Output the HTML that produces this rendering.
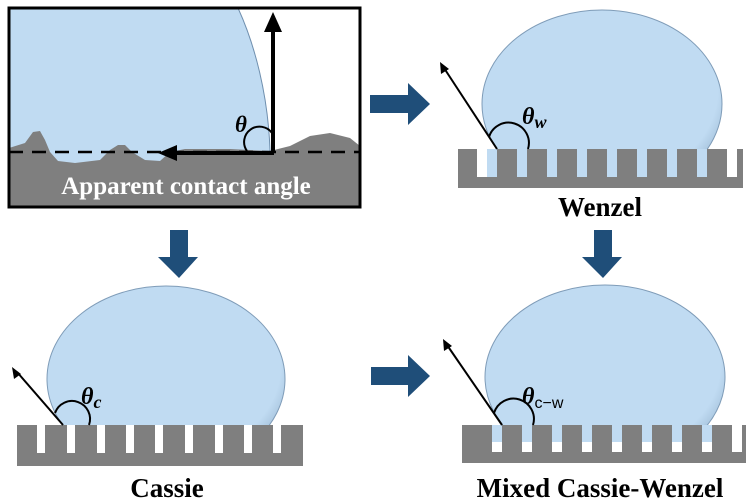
<!DOCTYPE html>
<html><head><meta charset="utf-8"><style>
html,body{margin:0;padding:0;background:#fff;}
svg{display:block}
text{font-family:"Liberation Serif",serif;font-weight:bold;}
</style></head><body>
<svg width="756" height="503" viewBox="0 0 756 503" xmlns="http://www.w3.org/2000/svg">
<defs>
<radialGradient id="dg" cx="0.45" cy="0.42" r="0.62">
<stop offset="0.86" stop-color="#c0dbf2"/><stop offset="1" stop-color="#9fbcd6"/>
</radialGradient>
<clipPath id="c1"><rect x="0" y="0" width="756" height="149"/></clipPath>
<clipPath id="c2"><rect x="0" y="0" width="756" height="425"/></clipPath>
<clipPath id="box"><rect x="9" y="8" width="351" height="199"/></clipPath>
</defs>

<!-- Top-left box -->
<g clip-path="url(#box)">
<rect x="9" y="8" width="351" height="199" fill="#fff"/>
<path d="M9,8 L238,8 C255,45 268,95 270,150 L270,170 L9,170 Z" fill="#c0dbf2" stroke="#6f8fae" stroke-width="1"/>
<path d="M9,148 L25,143 L33,132 L40,131 L45,140 L50,152 L58,161 L75,163 L100,160 L110,150 L118,145 L125,145 L132,152 L145,160 L160,161 L170,152 L185,149 L230,149 L270,151 L290,146 L310,136 L330,133 L350,138 L360,146 L360,207 L9,207 Z" fill="#7f7f7f"/>
<line x1="9" y1="152" x2="360" y2="152" stroke="#000" stroke-width="2.5" stroke-dasharray="14,9"/>
</g>
<rect x="9" y="8" width="351" height="199" fill="none" stroke="#000" stroke-width="3"/>
<line x1="273" y1="153" x2="273" y2="28" stroke="#000" stroke-width="4"/>
<polygon points="273,12 264,32 282,32" fill="#000"/>
<line x1="274" y1="153" x2="175" y2="153" stroke="#000" stroke-width="4"/>
<polygon points="158,153 177,145 177,161" fill="#000"/>
<path d="M247,151 A14,14 0 0 1 272,133" fill="none" stroke="#000" stroke-width="2"/>
<text x="235" y="132" font-size="23" font-style="italic">θ</text>
<text x="186" y="194" font-size="25" fill="#fff" text-anchor="middle">Apparent contact angle</text>

<!-- Blue arrows -->
<g fill="#1f4e79">
<polygon points="370,95 408,95 408,83 430,104 408,125 408,113 370,113"/>
<polygon points="371,367 408,367 408,355 430,376 408,397 408,385 371,385"/>
<polygon points="170,230 188,230 188,257 198,257 179,278 158,257 170,257"/>
<polygon points="594,230 612,230 612,257 622,257 603,278 582,257 594,257"/>
</g>

<!-- Wenzel -->
<rect x="458" y="149" width="285" height="39" fill="#7f7f7f"/>
<g fill="#c0dbf2">
<rect x="487" y="149" width="10" height="28"/><rect x="517" y="149" width="10" height="28"/><rect x="547" y="149" width="10" height="28"/><rect x="577" y="149" width="10" height="28"/><rect x="607" y="149" width="10" height="28"/><rect x="637" y="149" width="10" height="28"/><rect x="667" y="149" width="10" height="28"/><rect x="697" y="149" width="10" height="28"/>
</g>
<rect x="477" y="149" width="10" height="28" fill="#fff"/>
<rect x="727" y="149" width="10" height="28" fill="#fff"/>
<ellipse cx="602" cy="104" rx="120" ry="94" fill="url(#dg)" stroke="#7f9cb8" stroke-width="1" clip-path="url(#c1)"/>
<line x1="497" y1="149" x2="444" y2="68" stroke="#000" stroke-width="2"/>
<polygon points="440,62 441,74 449,69" fill="#000"/>
<path d="M489,137 A18,18 0 0 1 528,149" fill="none" stroke="#000" stroke-width="2"/>
<text x="522" y="124" font-size="24" font-style="italic">θ<tspan font-size="18" dy="4">w</tspan></text>
<text x="600" y="216" font-size="27" text-anchor="middle">Wenzel</text>

<!-- Cassie -->
<rect x="17" y="425" width="286" height="41" fill="#7f7f7f"/>
<g fill="#fff">
<rect x="37" y="425" width="8" height="28"/><rect x="67" y="425" width="8" height="28"/><rect x="97" y="425" width="8" height="28"/><rect x="126" y="425" width="8" height="28"/><rect x="155" y="425" width="8" height="28"/><rect x="185" y="425" width="8" height="28"/><rect x="215" y="425" width="8" height="28"/><rect x="244" y="425" width="8" height="28"/><rect x="273" y="425" width="8" height="28"/>
</g>
<ellipse cx="166" cy="379" rx="119" ry="93" fill="url(#dg)" stroke="#7f9cb8" stroke-width="1" clip-path="url(#c2)"/>
<line x1="63" y1="425" x2="17" y2="372" stroke="#000" stroke-width="2"/>
<polygon points="12,367 14,379 21,374" fill="#000"/>
<path d="M55,413 A18,18 0 0 1 89,425" fill="none" stroke="#000" stroke-width="2"/>
<text x="81" y="404" font-size="24" font-style="italic">θ<tspan font-size="18" dy="4">c</tspan></text>
<text x="167" y="497" font-size="27" text-anchor="middle">Cassie</text>

<!-- Mixed -->
<rect x="462" y="425" width="284" height="38" fill="#7f7f7f"/>
<g fill="#fff">
<rect x="492" y="425" width="10" height="27"/><rect x="522" y="425" width="10" height="27"/><rect x="552" y="425" width="10" height="27"/><rect x="582" y="425" width="10" height="27"/><rect x="612" y="425" width="10" height="27"/><rect x="642" y="425" width="10" height="27"/><rect x="672" y="425" width="10" height="27"/><rect x="702" y="425" width="10" height="27"/><rect x="732" y="425" width="10" height="27"/>
</g>
<g fill="#c0dbf2">
<rect x="492" y="425" width="10" height="17"/><rect x="522" y="425" width="10" height="17"/><rect x="552" y="425" width="10" height="17"/><rect x="582" y="425" width="10" height="17"/><rect x="612" y="425" width="10" height="17"/><rect x="642" y="425" width="10" height="17"/><rect x="672" y="425" width="10" height="17"/><rect x="702" y="425" width="10" height="17"/>
</g>
<ellipse cx="605" cy="377" rx="120" ry="92" fill="url(#dg)" stroke="#7f9cb8" stroke-width="1" clip-path="url(#c2)"/>
<line x1="502" y1="425" x2="447" y2="345" stroke="#000" stroke-width="2"/>
<polygon points="443,339 444,351 452,346" fill="#000"/>
<path d="M494,413 A18,18 0 0 1 533,425" fill="none" stroke="#000" stroke-width="2"/>
<text x="522" y="404" font-size="24" font-style="italic">θ<tspan font-size="16" font-style="normal" font-weight="normal" font-family="Liberation Sans, sans-serif" dy="4">c−w</tspan></text>
<text x="600" y="497" font-size="27" text-anchor="middle">Mixed Cassie-Wenzel</text>
</svg>
</body></html>
